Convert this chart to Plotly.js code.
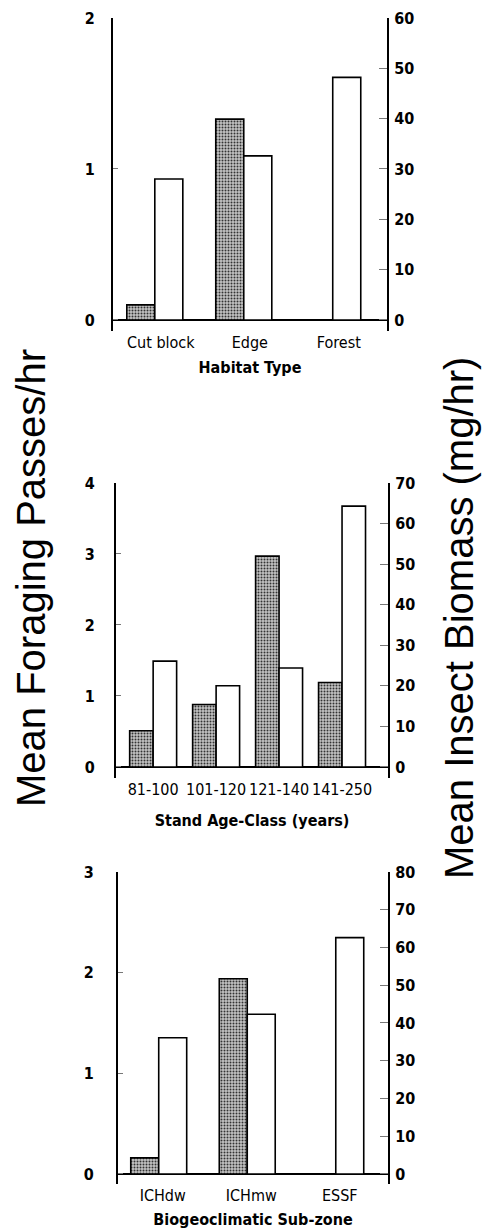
<!DOCTYPE html>
<html>
<head>
<meta charset="utf-8">
<script src="https://cdn.plot.ly/plotly-3.0.1.min.js"></script>
<style>
  html, body { margin: 0; padding: 0; background: #fff; }
  #chart { width: 484px; height: 1231px; }
</style>
</head>
<body>
<div id="chart"></div>
<script>
// ---- Data ----
const habitatTypes = ['Cut block', 'Edge', 'Forest'];
const habitatPasses = [0.1, 1.33, 0];
const habitatBiomass = [28, 32.6, 48.2];

const ageClasses = ['81-100', '101-120', '121-140', '141-250'];
const agePasses = [0.51, 0.88, 2.97, 1.19];
const ageBiomass = [26.1, 20.0, 24.4, 64.3];

const subZones = ['ICHdw', 'ICHmw', 'ESSF'];
const zonePasses = [0.16, 1.94, 0];
const zoneBiomass = [36.1, 42.3, 62.6];

const passesTicks1 = [0, 1, 2];
const biomassTicks1 = [0, 10, 20, 30, 40, 50, 60];
const passesTicks2 = [0, 1, 2, 3, 4];
const biomassTicks2 = [0, 10, 20, 30, 40, 50, 60, 70];
const passesTicks3 = [0, 1, 2, 3];
const biomassTicks3 = [0, 10, 20, 30, 40, 50, 60, 70, 80];

// ---- Styles ----
const narrowBold = {family: 'Liberation Sans Narrow, DejaVu Sans Condensed, Arial Narrow, sans-serif', size: 16, color: '#000', weight: 'bold'};
const catFont = {family: 'DejaVu Sans Condensed, Liberation Sans Narrow, sans-serif', size: 16, color: '#000'};
const titleFont = {family: 'DejaVu Sans Condensed, Liberation Sans Narrow, sans-serif', size: 16, color: '#000', weight: 'bold'};
const bigFont = {family: 'Liberation Sans, Arial, Helvetica, sans-serif', size: 40, color: '#000'};

const greyMarker = {
  color: '#b8b8b8',
  line: {color: '#000', width: 1.6},
  pattern: {shape: '.', fgcolor: '#333', bgcolor: '#c4c4c4', size: 3, solidity: 0.35}
};
const whiteMarker = {color: '#fff', line: {color: '#000', width: 1.6}};

function pair(cats, passes, biomass, xa, ya, yb, w) {
  return [
    {type: 'bar', x: cats, y: passes, xaxis: xa, yaxis: ya, width: w, offset: -w,
     marker: greyMarker, name: 'Foraging passes', showlegend: false, hoverinfo: 'x+y'},
    {type: 'bar', x: cats, y: biomass, xaxis: xa, yaxis: yb, width: w, offset: 0,
     marker: whiteMarker, name: 'Insect biomass', showlegend: false, hoverinfo: 'x+y'}
  ];
}

const data = [].concat(
  pair(habitatTypes, habitatPasses, habitatBiomass, 'x', 'y', 'y2', 0.315),
  pair(ageClasses, agePasses, ageBiomass, 'x2', 'y3', 'y4', 0.373),
  pair(subZones, zonePasses, zoneBiomass, 'x3', 'y5', 'y6', 0.316)
);

function xAxis(domain, range, anchor, title, standoff, shift) {
  return {
    domain: domain, range: range, anchor: anchor, type: 'category',
    showline: false, showgrid: false, zeroline: false, ticks: '',
    tickfont: catFont, ticklabelshift: shift, fixedrange: true,
    title: {text: title, font: titleFont, standoff: standoff}
  };
}
function leftAxis(domain, range, anchor, ticks, standoff) {
  return {
    domain: domain, range: range, anchor: anchor,
    tickvals: ticks, ticktext: ticks.map(String), tickfont: narrowBold,
    showline: true, linecolor: '#000', linewidth: 2,
    showgrid: false, zeroline: true, zerolinecolor: '#000', zerolinewidth: 2,
    ticks: 'inside', ticklen: 5, tickcolor: '#777', tickwidth: 1,
    ticklabelstandoff: standoff, fixedrange: true
  };
}
function rightAxis(overlay, range, anchor, ticks) {
  return {
    overlaying: overlay, side: 'right', range: range, anchor: anchor,
    tickvals: ticks, ticktext: ticks.map(String), tickfont: narrowBold,
    showline: true, linecolor: '#000', linewidth: 2,
    showgrid: false, zeroline: false,
    ticks: 'inside', ticklen: 8, tickcolor: '#777', tickwidth: 1,
    ticklabelstandoff: 2, fixedrange: true
  };
}

const W = 484, H = 1231;
const layout = {
  width: W, height: H,
  margin: {l: 0, r: 0, t: 0, b: 0},
  paper_bgcolor: '#fff', plot_bgcolor: 'rgba(0,0,0,0)',
  barmode: 'overlay',
  showlegend: false,
  xaxis:  xAxis([113 / W, 387 / W], [-0.47, 2.61], 'y', 'Habitat Type', 11, 6),
  yaxis:  leftAxis([1 - 330.5 / H, 1 - 18 / H], [-0.07, 2], 'x', passesTicks1, 13),
  yaxis2: rightAxis('y', [-2.1, 60], 'x', biomassTicks1),
  xaxis2: xAxis([116 / W, 388 / W], [-0.59, 3.73], 'y3', 'Stand Age-Class (years)', 17, 0),
  yaxis3: leftAxis([1 - 777.6 / H, 1 - 483 / H], [-0.15, 4], 'x2', passesTicks2, 16),
  yaxis4: rightAxis('y3', [-2.625, 70], 'x2', biomassTicks2),
  xaxis3: xAxis([118 / W, 388 / W], [-0.46, 2.59], 'y5', 'Biogeoclimatic Sub-zone', 9, 4),
  yaxis5: leftAxis([1 - 1184 / H, 1 - 872 / H], [-0.1, 3], 'x3', passesTicks3, 19),
  yaxis6: rightAxis('y5', [-2.667, 80], 'x3', biomassTicks3),
  annotations: [
    {text: 'Mean Foraging Passes/hr', xref: 'paper', yref: 'paper',
     x: 31 / W, y: 1 - 578 / H, xanchor: 'center', yanchor: 'middle',
     textangle: -90, showarrow: false, font: bigFont},
    {text: 'Mean Insect Biomass (mg/hr)', xref: 'paper', yref: 'paper',
     x: 459 / W, y: 1 - 618 / H, xanchor: 'center', yanchor: 'middle',
     textangle: -90, showarrow: false, font: bigFont}
  ]
};

Plotly.newPlot('chart', data, layout, {displayModeBar: false, staticPlot: true});
</script>
</body>
</html>
